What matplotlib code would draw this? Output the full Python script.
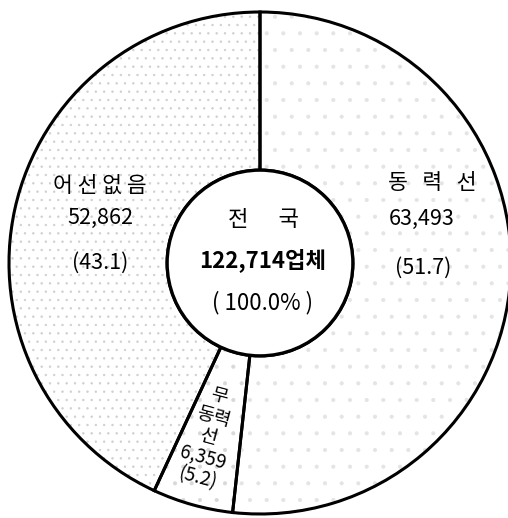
import matplotlib
matplotlib.use("Agg")
import matplotlib.pyplot as plt
from matplotlib.patches import Circle

plt.rcParams['font.family'] = ['Noto Sans CJK KR', 'DejaVu Sans']
plt.rcParams['hatch.linewidth'] = 0.5

categories = ['동력선', '무동력선', '어선없음']
values = [63493, 6359, 52862]
shares = [51.7, 5.2, 43.1]
total_label = '122,714업체'
total_share = '(100.0%)'

fig = plt.figure(figsize=(5.08, 5.18), dpi=100)
ax = fig.add_axes([0, 0, 1, 1])
R = 251.0

inner = 0.37
# texture layer
tex, _ = ax.pie(values, startangle=90, counterclock=False, radius=1.0,
                wedgeprops=dict(width=1 - inner, facecolor='white', linewidth=0))
for w, h, c in zip(tex, ['.', '.', '..'], ['#e4e4e4', '#d8d8d8', '#cfcfcf']):
    w.set_hatch(h)
    w.set_edgecolor(c)
    w.set_linewidth(0)

# outline layer
wedges, _ = ax.pie(values, startangle=90, counterclock=False, radius=1.0,
                   wedgeprops=dict(width=1 - inner, facecolor='none',
                                   edgecolor='black', linewidth=2.2))
ax.add_patch(Circle((0, 0), inner, facecolor='white', edgecolor='black',
                    linewidth=2.4, zorder=5))

ax.set_xlim(-260 / R, (508 - 260) / R)
ax.set_ylim(-(518 - 263) / R, 263 / R)
ax.set_aspect('equal')
ax.axis('off')

fs = 15.5
# 동력선
ax.text((432 - 260) / R, (263 - 183) / R, '동   력   선', ha='center', va='center', fontsize=fs)
ax.text((422 - 260) / R, (263 - 219) / R, f'{values[0]:,}', ha='center', va='center', fontsize=fs)
ax.text((423 - 260) / R, (263 - 268) / R, f'({shares[0]})', ha='center', va='center', fontsize=fs)
# 어선없음
ax.text((100 - 260) / R, (263 - 186) / R, '어 선 없 음', ha='center', va='center', fontsize=fs)
ax.text((100 - 260) / R, (263 - 218) / R, f'{values[2]:,}', ha='center', va='center', fontsize=fs)
ax.text((100 - 260) / R, (263 - 263) / R, f'({shares[2]})', ha='center', va='center', fontsize=fs)
# 무동력선
ax.text((208 - 260) / R, (263 - 437) / R,
        f'무\n동력\n선\n{values[1]:,}\n({shares[1]})',
        ha='center', va='center', fontsize=13.5, rotation=-15,
        rotation_mode='anchor', linespacing=1.0, multialignment='center', zorder=6)
# center
ax.text((264 - 260) / R, (263 - 219) / R, '전      국', ha='center', va='center',
        fontsize=16, zorder=6)
ax.text((263 - 260) / R, (263 - 260) / R, total_label, ha='center', va='center',
        fontsize=16, fontweight='bold', zorder=6)
ax.text((262 - 260) / R, (263 - 303) / R, total_share.replace('(', '( ').replace(')', ' )'),
        ha='center', va='center', fontsize=16, zorder=6)

fig.savefig('out.png', dpi=100)
